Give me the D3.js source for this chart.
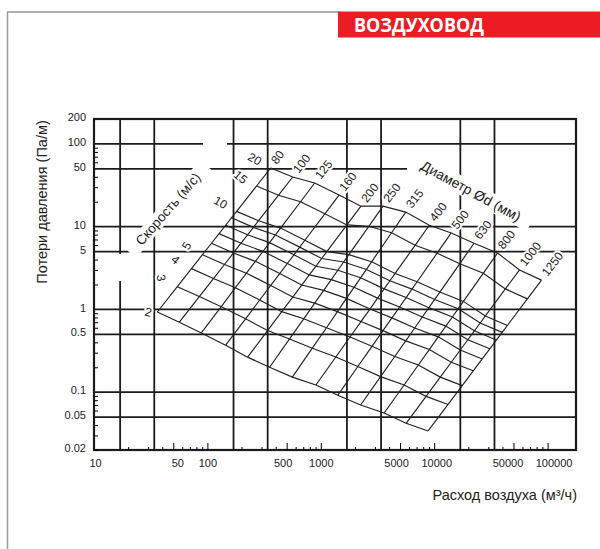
<!DOCTYPE html>
<html>
<head>
<meta charset="utf-8">
<script src="https://cdn.jsdelivr.net/npm/d3@7"></script>
<style>
  body { margin: 0; background: #fff; }
  text { font-family: "Liberation Sans", Arial, sans-serif; fill: #222; }
</style>
</head>
<body>
<script>
const m = {
    width: 600,
    height: 549,
    left: 94,
    right: 576,
    top: 119,
    bottom: 450
}

// duct diameters, mm
const diameters = [80, 100, 125, 160, 200, 250, 315, 400, 500, 630, 800, 1000, 1250]
// air velocities, m/s
const velocities = [2, 3, 4, 5, 6, 7, 8, 9, 10, 15, 20]
// pressure loss, Pa/m: one row per velocity, one column per diameter
const pressureLoss = [
    [0.93, 0.70, 0.52, 0.37, 0.265, 0.20, 0.152, 0.122, 0.092, 0.070, 0.056, 0.042, 0.034],
    [1.88, 1.43, 1.08, 0.77, 0.555, 0.44, 0.34, 0.266, 0.204, 0.154, 0.122, 0.089, 0.071],
    [3.11, 2.36, 1.83, 1.30, 0.94, 0.77, 0.60, 0.464, 0.358, 0.270, 0.213, 0.152, 0.120],
    [4.58, 3.49, 2.74, 1.95, 1.41, 1.19, 0.94, 0.713, 0.554, 0.417, 0.327, 0.230, 0.181],
    [6.30, 4.81, 3.81, 2.71, 1.97, 1.70, 1.36, 1.01, 0.79, 0.596, 0.466, 0.323, 0.252],
    [8.24, 6.31, 5.03, 3.59, 2.61, 2.29, 1.85, 1.37, 1.07, 0.81, 0.628, 0.430, 0.334],
    [10.4, 7.97, 6.41, 4.57, 3.32, 2.97, 2.41, 1.77, 1.39, 1.05, 0.81, 0.551, 0.426],
    [12.8, 9.80, 7.94, 5.66, 4.12, 3.74, 3.04, 2.22, 1.76, 1.32, 1.02, 0.685, 0.528],
    [15.3, 11.8, 9.61, 6.85, 5.00, 4.59, 3.76, 2.72, 2.16, 1.62, 1.25, 0.834, 0.639],
    [31.0, 24.0, 20.0, 14.3, 10.5, 10.1, 8.43, 5.95, 4.78, 3.57, 2.74, 1.77, 1.34],
    [51.2, 39.8, 33.7, 24.1, 17.7, 17.7, 15.0, 10.4, 8.4, 6.3, 4.8, 3.0, 2.26]
]
const velocityLabels = [2, 3, 4, 5, 10, 15, 20]

const xTickLabels = [10, 50, 100, 500, 1000, 5000, 10000, 50000, 100000]
const yTickLabels = [200, 100, 50, 10, 5, 1, 0.5, 0.1, 0.05, 0.02]
const xGrid = [17, 34, 170, 340, 1700, 3400, 17000, 34000]
const yGrid = [100, 50, 10, 5, 1, 0.5, 0.1, 0.05]

const svg = d3.select('body').append('svg')
    .attr('width', m.width)
    .attr('height', m.height)

const x = d3.scaleLog().domain([10, 178000]).range([m.left, m.right])
const y = d3.scaleLog().domain([0.02, 200]).range([m.bottom, m.top])

// air flow through a round duct, m3/h
const flow = (v, d) => v * Math.PI * Math.pow(d / 1000, 2) / 4 * 3600

// page frame + header
svg.append('path')
    .attr('d', 'M7.5,549 V12 H340')
    .attr('fill', 'none')
    .attr('stroke', '#9a9a9a')
    .attr('stroke-width', 1.5)
svg.append('rect')
    .attr('x', 338).attr('y', 11.5)
    .attr('width', 262).attr('height', 26)
    .attr('fill', '#ed1c24')
svg.append('text')
    .attr('x', 354).attr('y', 32)
    .attr('textLength', 130)
    .attr('lengthAdjust', 'spacingAndGlyphs')
    .style('font-family', '"Open Sans", sans-serif')
    .style('font-weight', 'bold')
    .style('font-size', '20px')
    .style('fill', '#fff')
    .text('ВОЗДУХОВОД')

// grid
const grid = svg.append('g').attr('stroke', '#1b1b1b').attr('stroke-width', 1.8)
grid.selectAll('.hg')
    .data(yGrid)
    .enter()
    .append('line')
        .attr('x1', m.left).attr('x2', m.right)
        .attr('y1', d => y(d)).attr('y2', d => y(d))

// the source drawing leaves a few breaks in the grid
const masks = svg.append('g').attr('fill', '#fff')
masks.append('rect').attr('x', 203).attr('y', 140).attr('width', 24).attr('height', 8)
masks.append('rect').attr('x', 407).attr('y', 164).attr('width', 168).attr('height', 9)

const vgrid = svg.append('g').attr('stroke', '#1b1b1b').attr('stroke-width', 1.8)
vgrid.selectAll('.vg')
    .data(xGrid)
    .enter()
    .append('line')
        .attr('x1', d => x(d)).attr('x2', d => x(d))
        .attr('y1', m.top).attr('y2', m.bottom)

svg.append('rect')
    .attr('x', 115).attr('y', 254).attr('width', 9).attr('height', 27)
    .attr('fill', '#fff')

// white boxes behind the rotated titles
svg.append('rect')
    .attr('x', -58).attr('y', -8).attr('width', 116).attr('height', 16)
    .attr('fill', '#fff')
    .attr('transform', 'translate(168,209) rotate(-49)')
svg.append('rect')
    .attr('x', -68).attr('y', -9).attr('width', 136).attr('height', 18)
    .attr('fill', '#fff')
    .attr('transform', 'translate(471,191) rotate(28.6)')

// plot frame
svg.append('rect')
    .attr('x', m.left).attr('y', m.top)
    .attr('width', m.right - m.left).attr('height', m.bottom - m.top)
    .attr('fill', 'none')
    .attr('stroke', '#1b1b1b')
    .attr('stroke-width', 2.2)

// axes
const xMinor = []
;[10, 100, 1000, 10000, 100000].forEach(dec => {
    for (let k = 2; k <= 9; k++) if (k * dec <= 178000 && k !== 5) xMinor.push(k * dec)
})
const xMajor = xTickLabels.filter(d => d !== 10)
const yMinor = []
;[0.01, 0.1, 1, 10].forEach(dec => {
    for (let k = 2; k <= 9; k++) if (k * dec >= 0.02 && k !== 5) yMinor.push(+(k * dec).toPrecision(3))
})

// labels sit a little off their ticks in the original
const xLabelShift = { 10: 1, 50: 4, 500: -4, 5000: -4, 10000: 2, 50000: -6, 100000: 6 }

svg.append('g')
    .attr('transform', `translate(0,${m.bottom})`)
    .call(d3.axisBottom(x).tickValues(xMinor).tickSize(-3).tickFormat(''))
    .call(g => g.select('.domain').remove())
svg.append('g')
    .attr('transform', `translate(0,${m.bottom})`)
    .call(d3.axisBottom(x).tickValues(xMajor).tickSize(-7).tickFormat(''))
    .call(g => g.select('.domain').remove())
svg.append('g')
    .attr('transform', `translate(0,${m.bottom})`)
    .call(d3.axisBottom(x).tickValues(xTickLabels).tickSize(0).tickPadding(9).tickFormat(d => d))
    .call(g => g.select('.domain').remove())
    .call(g => g.selectAll('text')
        .attr('dx', d => xLabelShift[d] || 0)
        .style('font-size', '11px').style('fill', '#222')
        .style('font-family', '"Liberation Sans", Arial, sans-serif'))

svg.append('g')
    .attr('transform', `translate(${m.left},0)`)
    .call(d3.axisLeft(y).tickValues(yMinor).tickSize(-4).tickFormat(''))
    .call(g => g.select('.domain').remove())
svg.append('g')
    .attr('transform', `translate(${m.left},0)`)
    .call(d3.axisLeft(y).tickValues(yTickLabels).tickSize(0).tickPadding(8).tickFormat(d => d))
    .call(g => g.select('.domain').remove())
    .call(g => g.selectAll('text').attr('dy', '0.15em').style('font-size', '11px').style('fill', '#222')
        .style('font-family', '"Liberation Sans", Arial, sans-serif'))

// nomogram
const nomo = svg.append('g')
    .attr('fill', 'none')
    .attr('stroke', '#222')
    .attr('stroke-width', 1.15)

const line = d3.line()
    .x(p => x(p[0]))
    .y(p => y(p[1]))

// one line per diameter
nomo.selectAll('.dia')
    .data(diameters)
    .enter()
    .append('path')
        .attr('d', (d, j) => line(velocities.map((v, i) => [flow(v, d), pressureLoss[i][j]])))

// one line per velocity
nomo.selectAll('.vel')
    .data(velocities)
    .enter()
    .append('path')
        .attr('d', (v, i) => line(diameters.map((d, j) => [flow(v, d), pressureLoss[i][j]])))

// labels with white halo
const halo = sel => sel
    .style('paint-order', 'stroke')
    .style('stroke', '#fff')
    .style('stroke-width', '4px')
    .style('stroke-linejoin', 'round')

const last = velocities.length - 1
svg.selectAll('.dlab')
    .data(diameters)
    .enter()
    .append('text')
        .attr('transform', (d, j) => {
            const px = x(flow(velocities[last], d)) + 6
            const py = y(pressureLoss[last][j]) - 3
            return `translate(${px},${py}) rotate(-52)`
        })
        .style('font-size', '12px')
        .call(halo)
        .text(d => d)

const vRot = { 2: 15, 3: 80, 4: 40, 5: -60, 10: 30, 15: 40, 20: 30 }
svg.selectAll('.vlab')
    .data(velocityLabels)
    .enter()
    .append('text')
        .attr('transform', v => {
            const i = velocities.indexOf(v)
            const dx = v === 2 ? -9 : -16
            const dy = v === 2 ? 0 : -9
            const px = x(flow(v, diameters[0])) + dx
            const py = y(pressureLoss[i][0]) + dy
            return `translate(${px},${py}) rotate(${vRot[v]})`
        })
        .attr('text-anchor', 'middle')
        .attr('dy', '0.35em')
        .style('font-size', '12px')
        .call(halo)
        .text(v => v)

// titles
svg.append('text')
    .attr('transform', 'translate(168,209) rotate(-49)')
    .attr('text-anchor', 'middle')
    .attr('dy', '0.35em')
    .style('font-size', '13.5px')
    .text('Скорость (м/с)')
svg.append('text')
    .attr('transform', 'translate(471,191) rotate(28.6)')
    .attr('text-anchor', 'middle')
    .attr('dy', '0.35em')
    .style('font-size', '14px')
    .text('Диаметр Ød (мм)')

svg.append('text')
    .attr('transform', 'translate(47,202) rotate(-90)')
    .attr('text-anchor', 'middle')
    .style('font-size', '14.5px')
    .text('Потери давления (Па/м)')

svg.append('text')
    .attr('x', 577).attr('y', 500)
    .attr('text-anchor', 'end')
    .style('font-size', '14.5px')
    .text('Расход воздуха (м³/ч)')
</script>
</body>
</html>
